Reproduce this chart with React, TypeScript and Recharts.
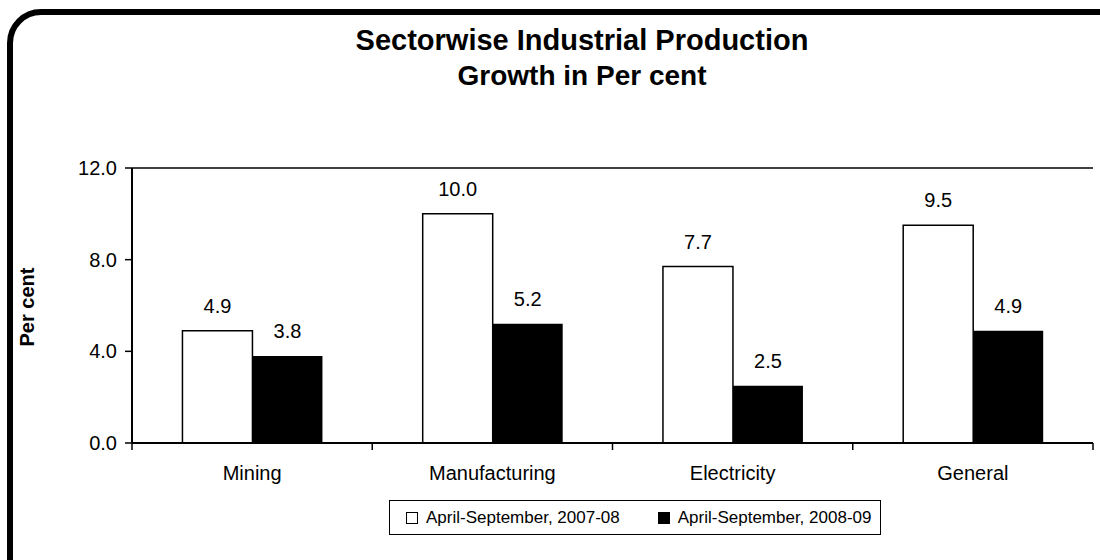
import { BarChart, Bar, XAxis, YAxis, Legend, LabelList, ReferenceLine } from 'recharts';

const categories = ['Mining', 'Manufacturing', 'Electricity', 'General'];
const series2007 = [4.9, 10.0, 7.7, 9.5];
const series2008 = [3.8, 5.2, 2.5, 4.9];
const seriesNames = ['April-September, 2007-08', 'April-September, 2008-09'];
const yTicks = [0, 4, 8, 12];

const data = categories.map((name, i) => ({ name, a: series2007[i], b: series2008[i] }));

const W = 1100;
const H = 560;
const margin = { top: 168, right: 7, left: 62, bottom: 0 };
const yAxisWidth = 70;
const plotW = W - margin.left - yAxisWidth - margin.right;
const band = plotW / categories.length;
const font = 'Arial, "Liberation Sans", sans-serif';

function CategoryTick(props: any) {
  const { x, y, payload, index } = props;
  const last = index === categories.length - 1;
  return (
    <g>
      <line x1={x - band / 2} y1={y} x2={x - band / 2} y2={y + 7} stroke="#000" strokeWidth={1.5} />
      {last && <line x1={x + band / 2} y1={y} x2={x + band / 2} y2={y + 7} stroke="#000" strokeWidth={1.5} />}
      <text x={x} y={y + 37} textAnchor="middle" fontSize={20} fontFamily={font} fill="#000">
        {payload.value}
      </text>
    </g>
  );
}

function LegendBox() {
  return (
    <div
      style={{
        border: '1.5px solid #000',
        height: 35,
        display: 'flex',
        alignItems: 'center',
        fontFamily: font,
        fontSize: 17,
        paddingLeft: 16,
        boxSizing: 'border-box',
        whiteSpace: 'nowrap',
        color: '#000',
      }}
    >
      {seriesNames.map((n, i) => (
        <span key={n} style={{ display: 'flex', alignItems: 'center', marginRight: 38, flexShrink: 0 }}>
          <span
            style={{
              width: 12,
              height: 12,
              boxSizing: 'border-box',
              border: '1.5px solid #000',
              background: i === 0 ? '#fff' : '#000',
              marginRight: 8,
              display: 'inline-block',
            }}
          />
          {n}
        </span>
      ))}
    </div>
  );
}

export default function App() {
  return (
    <div style={{ position: 'relative', width: W, height: H, overflow: 'hidden', background: '#fff' }}>
      <style>{`body{margin:0}`}</style>
      <div
        style={{
          position: 'absolute',
          left: 7,
          top: 9,
          width: 1120,
          height: 580,
          border: '6px solid #000',
          borderRadius: 34,
        }}
      />
      <div
        style={{
          position: 'absolute',
          left: 0,
          width: 1164,
          top: 22,
          textAlign: 'center',
          fontFamily: font,
          fontWeight: 'bold',
          color: '#000',
        }}
      >
        <div style={{ fontSize: 29, lineHeight: '36px' }}>Sectorwise Industrial Production</div>
        <div style={{ fontSize: 28, lineHeight: '36px' }}>Growth in Per cent</div>
      </div>
      <div style={{ position: 'absolute', left: 0, top: 0 }}>
        <BarChart width={W} height={H} data={data} margin={margin} barCategoryGap="21%" barGap={0}>
          <XAxis
            dataKey="name"
            height={117}
            tickLine={false}
            tickSize={0}
            tickMargin={0}
            axisLine={{ stroke: '#000', strokeWidth: 2 }}
            tick={<CategoryTick />}
            interval={0}
          />
          <YAxis
            width={yAxisWidth}
            domain={[0, 12]}
            ticks={yTicks}
            tickFormatter={(v: number) => v.toFixed(1)}
            tick={{ fill: '#000', fontSize: 20, fontFamily: font }}
            tickSize={7}
            tickMargin={8}
            tickLine={{ stroke: '#000', strokeWidth: 1.5 }}
            axisLine={{ stroke: '#000', strokeWidth: 2 }}
            label={() => (
              <text
                x={27}
                y={307}
                transform="rotate(-90 27 307)"
                textAnchor="middle"
                dominantBaseline="central"
                fontSize={20}
                fontWeight="bold"
                fontFamily={font}
                fill="#000"
              >
                Per cent
              </text>
            )}
          />
          <YAxis
            yAxisId="right"
            orientation="right"
            width={0}
            domain={[0, 12]}
            tick={false}
            tickLine={false}
            axisLine={{ stroke: '#000', strokeWidth: 1.5 }}
          />
          <ReferenceLine y={12} stroke="#000" strokeWidth={1.5} ifOverflow="extendDomain" />
          <Legend
            verticalAlign="middle"
            layout="horizontal"
            wrapperStyle={{ top: 500, left: 389, width: 492, height: 35 }}
            content={<LegendBox />}
          />
          <Bar dataKey="a" name={seriesNames[0]} fill="#fff" stroke="#000" strokeWidth={1.5} isAnimationActive={false}>
            <LabelList
              dataKey="a"
              position="top"
              offset={18}
              formatter={(v: any) => Number(v).toFixed(1)}
              style={{ fontSize: 20, fontFamily: font, fill: '#000' }}
            />
          </Bar>
          <Bar dataKey="b" name={seriesNames[1]} fill="#000" isAnimationActive={false}>
            <LabelList
              dataKey="b"
              position="top"
              offset={18}
              formatter={(v: any) => Number(v).toFixed(1)}
              style={{ fontSize: 20, fontFamily: font, fill: '#000' }}
            />
          </Bar>
        </BarChart>
      </div>
    </div>
  );
}
